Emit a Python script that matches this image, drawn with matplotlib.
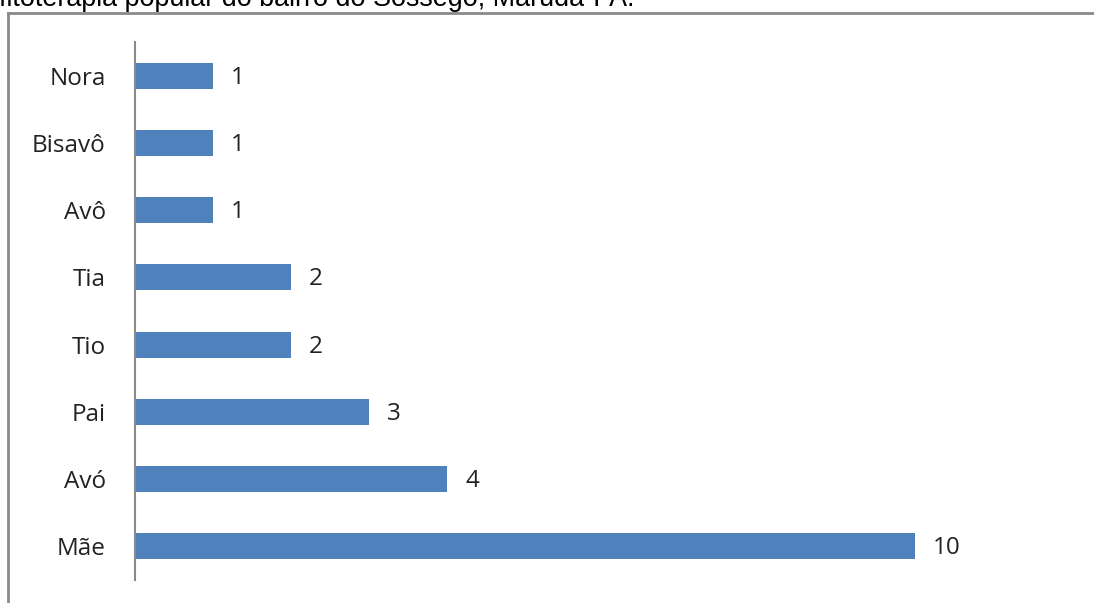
import matplotlib
matplotlib.use("Agg")
import matplotlib.pyplot as plt
from matplotlib.lines import Line2D

categories = ["Mãe", "Avó", "Pai", "Tio", "Tia", "Avô", "Bisavô", "Nora"]
values = [10, 4, 3, 2, 2, 1, 1, 1]
caption = "fitoterapia popular do bairro do Sossego, Marudá-PA."

W, H = 1094, 603
fig = plt.figure(figsize=(W / 100, H / 100), dpi=100)
fig.patch.set_facecolor("white")

# outer frame
fig.add_artist(Line2D([7.5 / W, 7.5 / W], [0, 1 - 12.5 / H], transform=fig.transFigure,
                      color="#8a8a8a", lw=2))
fig.add_artist(Line2D([7.5 / W, 1.0], [1 - 12.5 / H, 1 - 12.5 / H], transform=fig.transFigure,
                      color="#8a8a8a", lw=2))

# caption (cut off at top, as in the source)
fig.text(-1 / W, 1 - 5.5 / H, caption, family="Liberation Sans", fontsize=19.4,
         va="baseline", ha="left", color="black")

lab_font = dict(family="Open Sans", weight="normal", size=17.5)

ax = fig.add_axes([135 / W, 23 / H, (1071 - 135) / W, 538 / H])
y = range(len(categories))
bars = ax.barh(list(y), values, height=0.39, color="#4F81BD")
ax.set_ylim(-0.5, len(categories) - 0.5)
ax.set_xlim(0, 12)
ax.set_yticks(list(y))
ax.set_yticklabels(categories, fontdict=lab_font, color="#222222")
ax.tick_params(axis="y", length=0, pad=21)
ax.set_xticks([])
for s in ["top", "right", "bottom"]:
    ax.spines[s].set_visible(False)
ax.spines["left"].set_color("#8a8a8a")
ax.spines["left"].set_linewidth(1.5)
for b, v in zip(bars, values):
    ax.annotate(str(v), (b.get_width(), b.get_y() + b.get_height() / 2),
                xytext=(18, -2), textcoords="offset pixels", va="center", ha="left",
                color="#222222", **lab_font)

fig.savefig("out.png", dpi=100)
